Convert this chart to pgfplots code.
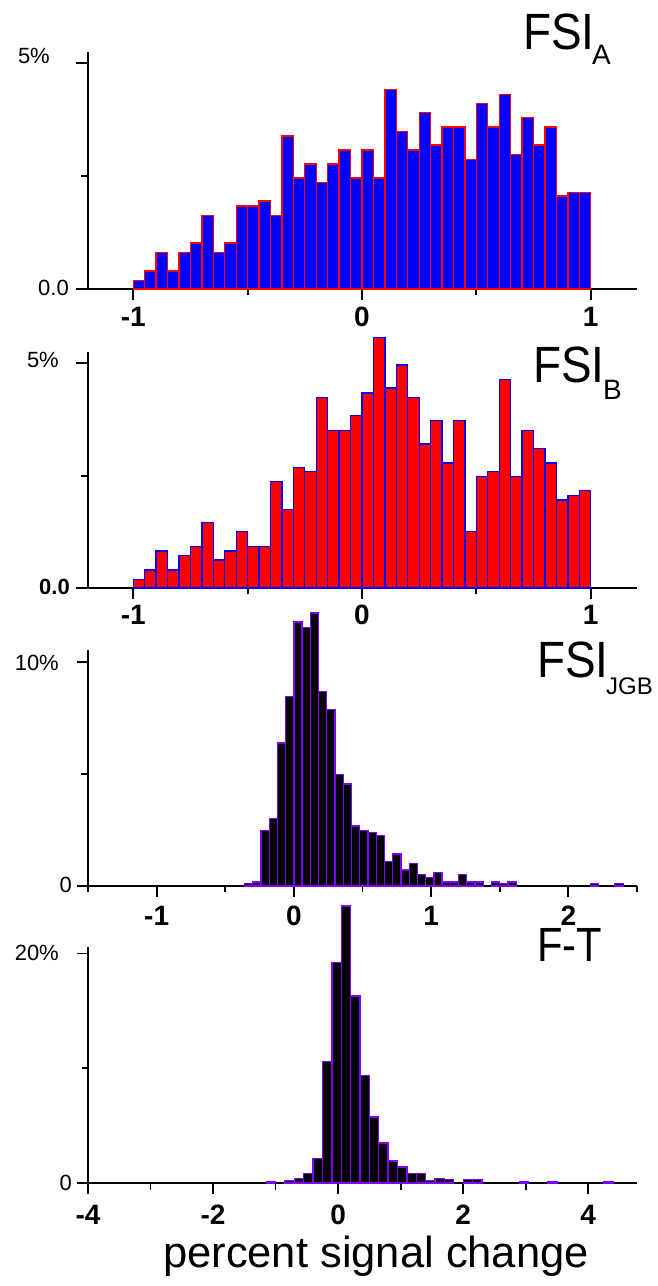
\documentclass[border=0pt]{standalone}
\usepackage{fontspec}
\setmainfont{Liberation Sans}
\usepackage{pgfplots}
\pgfplotsset{compat=1.18}
\definecolor{edgeviolet}{RGB}{128,0,255}

\pgfplotsset{
  panel/.style={
    scale only axis, width=549pt,
    axis x line*=bottom, axis y line*=left,
    axis line style={-, line width=2pt},
    every outer x axis line/.append style={-},
    every outer y axis line/.append style={-},
    ymin=0, clip=false,
    tick align=outside,
    major tick length=11pt, minor tick length=6.5pt,
    tick style={black, line width=1.8pt},
    yticklabels={},
    xticklabel style={font=\bfseries\fontsize{28}{28}\selectfont, anchor=center, inner sep=0pt},
    ybar, bar shift=0pt,
  },
}

\begin{document}
\begin{tikzpicture}[x=1pt,y=1pt]
\path[use as bounding box] (0pt,0pt) rectangle (657pt,1286pt);

% panel A
\begin{axis}[panel, at={(87.5pt,997pt)}, anchor=south west, height=237pt,
  xmin=-1.2, xmax=1.2, ymax=5.25,
  xtick={-1,0,1}, xticklabels={-1,0,1}, minor xtick={-0.5,0.5},
  ytick={0,5}, minor ytick={2.5},
  xticklabel style={yshift=-17pt}]
\addplot[fill=blue, draw=red, line width=1.3pt, bar width=0.05] coordinates {
(-0.975,0.19) (-0.925,0.40) (-0.875,0.81) (-0.825,0.40) (-0.775,0.81)
(-0.725,1.02) (-0.675,1.63) (-0.625,0.81) (-0.575,1.02) (-0.525,1.84)
(-0.475,1.84) (-0.425,1.95) (-0.375,1.63) (-0.325,3.39) (-0.275,2.46)
(-0.225,2.77) (-0.175,2.36) (-0.125,2.77) (-0.075,3.08) (-0.025,2.46)
(0.025,3.08) (0.075,2.46) (0.125,4.42) (0.175,3.49) (0.225,3.08)
(0.275,3.91) (0.325,3.19) (0.375,3.59) (0.425,3.59) (0.475,2.87)
(0.525,4.11) (0.575,3.59) (0.625,4.31) (0.675,2.98) (0.725,3.80)
(0.775,3.19) (0.825,3.59) (0.875,2.06) (0.925,2.14) (0.975,2.14)};
\end{axis}

% panel B
\begin{axis}[panel, at={(87.5pt,698pt)}, anchor=south west, height=236pt,
  xmin=-1.2, xmax=1.2, ymax=5.25,
  xtick={-1,0,1}, xticklabels={-1,0,1}, minor xtick={-0.5,0.5},
  ytick={0,5}, minor ytick={2.5},
  xticklabel style={yshift=-15.5pt}]
\addplot[fill=red, draw=blue, line width=1.3pt, bar width=0.05] coordinates {
(-0.975,0.19) (-0.925,0.40) (-0.875,0.82) (-0.825,0.40) (-0.775,0.73)
(-0.725,0.93) (-0.675,1.45) (-0.625,0.62) (-0.575,0.82) (-0.525,1.25)
(-0.475,0.93) (-0.425,0.93) (-0.375,2.37) (-0.325,1.75) (-0.275,2.68)
(-0.225,2.59) (-0.175,4.23) (-0.125,3.50) (-0.075,3.50) (-0.025,3.84)
(0.025,4.34) (0.075,5.58) (0.125,4.45) (0.175,4.96) (0.225,4.23)
(0.275,3.20) (0.325,3.72) (0.375,2.78) (0.425,3.72) (0.475,1.25)
(0.525,2.48) (0.575,2.59) (0.625,4.64) (0.675,2.48) (0.725,3.50)
(0.775,3.10) (0.825,2.78) (0.875,1.96) (0.925,2.05) (0.975,2.17)};
\end{axis}

% panel JGB
\begin{axis}[panel, at={(88pt,400pt)}, anchor=south west, height=236pt,
  xmin=-1.5, xmax=2.5, ymax=10.52,
  xtick={-1,0,1,2}, xticklabels={-1,0,1,2}, minor xtick={-1.5,-0.5,0.5,1.5,2.5},
  ytick={0,10}, minor ytick={5},
  xticklabel style={yshift=-19pt}]
\addplot[fill=black, draw=edgeviolet, line width=1.3pt, bar width=0.06] coordinates {
(-0.33,0.10) (-0.27,0.18) (-0.21,2.48) (-0.15,3.00) (-0.09,6.38)
(-0.03,8.46) (0.03,11.77) (0.09,11.53) (0.15,12.17) (0.21,8.68)
(0.27,7.86) (0.33,4.96) (0.39,4.55) (0.45,2.67) (0.51,2.48)
(0.57,2.37) (0.63,2.26) (0.69,1.10) (0.75,1.42) (0.81,0.71)
(0.87,1.01) (0.93,0.50) (0.99,0.37) (1.05,0.59) (1.11,0.18)
(1.17,0.18) (1.23,0.50) (1.29,0.18) (1.35,0.18) (1.47,0.18)
(1.53,0.10) (1.59,0.18) (2.19,0.10) (2.37,0.10)};
\end{axis}

% panel F-T
\begin{axis}[panel, at={(88pt,103pt)}, anchor=south west, height=236pt,
  xmin=-4, xmax=4.78, ymax=20.57,
  xtick={-4,-2,0,2,4}, xticklabels={-4,-2,0,2,4}, minor xtick={-3,-1,1,3},
  ytick={0,20}, minor ytick={10},
  xticklabel style={yshift=-21pt}]
\addplot[fill=black, draw=edgeviolet, line width=1.3pt, bar width=0.15] coordinates {
(-1.075,0.12) (-0.775,0.20) (-0.625,0.40) (-0.475,0.80) (-0.325,2.15)
(-0.175,10.6) (-0.025,19.2) (0.125,24.15) (0.275,16.3) (0.425,9.35)
(0.575,5.75) (0.725,3.48) (0.875,1.93) (1.025,1.40) (1.175,0.80)
(1.325,0.80) (1.475,0.23) (1.625,0.40) (1.775,0.30) (2.075,0.30)
(2.225,0.30) (2.975,0.12) (3.425,0.12) (4.325,0.12)};
\end{axis}

% y tick labels
\begin{scope}[every node/.style={anchor=east, inner sep=0pt, font=\fontsize{22}{22}\selectfont}]
\node at (50pt,1230pt) {5\%};
\node at (69pt,998pt) {0.0};
\node at (59pt,926pt) {5\%};
\node[font=\bfseries\fontsize{22}{22}\selectfont] at (70pt,699pt) {0.0};
\node at (59pt,623pt) {10\%};
\node at (72pt,401pt) {0};
\node at (59pt,333pt) {20\%};
\node at (72pt,103pt) {0};
\end{scope}

% panel titles
\begin{scope}[every node/.style={anchor=base west, inner sep=0pt}]
\node[font=\fontsize{51}{51}\selectfont] at (523pt,1236pt) {\scalebox{0.9}[1]{FSI}};
\node[font=\fontsize{28}{28}\selectfont] at (592pt,1221pt) {A};
\node[font=\fontsize{51}{51}\selectfont] at (533pt,903pt) {\scalebox{0.9}[1]{FSI}};
\node[font=\fontsize{28}{28}\selectfont] at (603pt,886pt) {B};
\node[font=\fontsize{51}{51}\selectfont] at (537pt,608pt) {\scalebox{0.9}[1]{FSI}};
\node[font=\fontsize{24}{24}\selectfont] at (606pt,591pt) {JGB};
\node[font=\fontsize{48}{48}\selectfont] at (537pt,324pt) {\scalebox{0.87}[1]{F-T}};
\end{scope}

\node[anchor=base, inner sep=0pt, font=\fontsize{43.5}{43.5}\selectfont] at (376pt,19pt) {percent signal change};
\end{tikzpicture}
\end{document}
